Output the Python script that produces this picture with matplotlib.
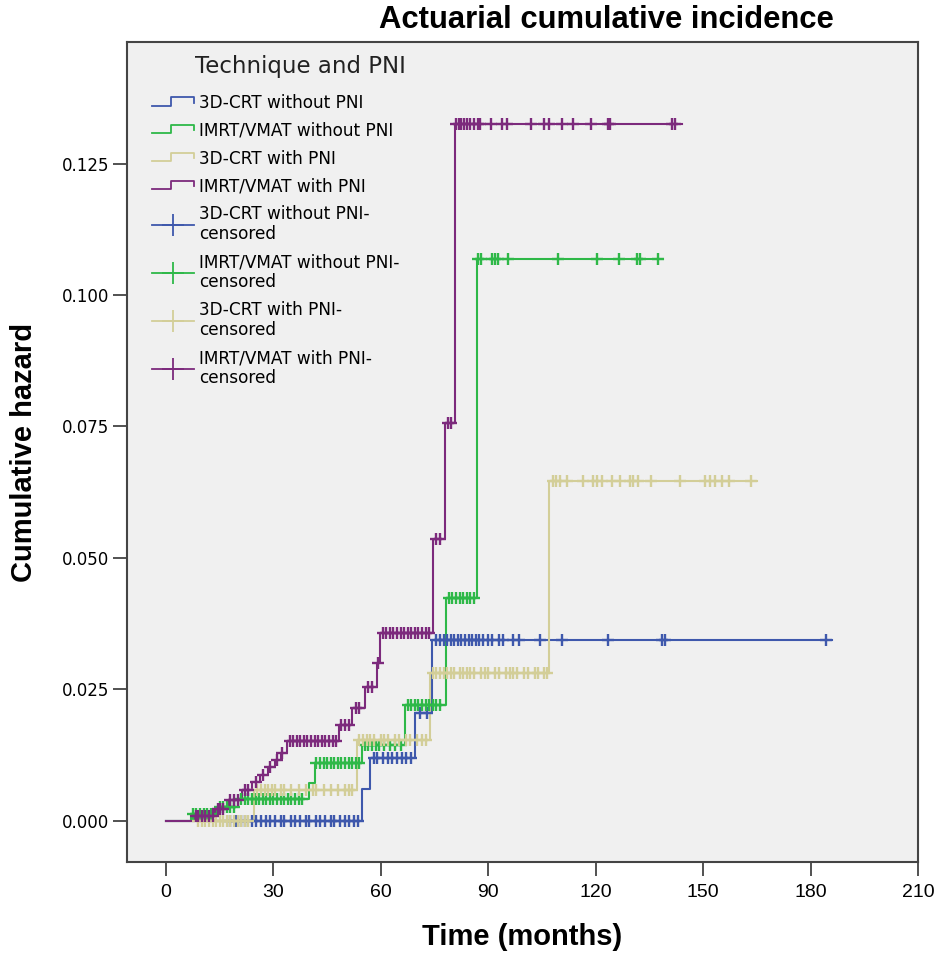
import numpy as np
import matplotlib
matplotlib.use('Agg')
import matplotlib.pyplot as plt
from matplotlib.lines import Line2D
from matplotlib.legend_handler import HandlerBase

plt.rcParams['font.family'] = ['Liberation Sans', 'DejaVu Sans']
narrow = ['Liberation Sans Narrow', 'Liberation Sans', 'DejaVu Sans']

# step data: event times (months) and cumulative hazard after each event
blue_times = [0, 54.7, 57.0, 69.5, 74.3]
blue_haz = [0, 0.0060, 0.0120, 0.0205, 0.0345]
blue_end = 186
blue_cens = [18, 19.5, 21, 22, 24, 25, 26.5, 28, 29, 30.5, 32, 33, 35, 36, 37.5, 39, 40,
             42, 43, 44.5, 46, 47, 48.5, 50, 51, 52.5, 53.5, 58, 59, 60.5, 62, 63, 64.5,
             66, 67, 68.5, 71, 73, 75.5, 76.5, 77.5, 78.5, 79.5, 80.5, 81.5, 82.5, 83.5,
             84.5, 85.5, 86.5, 87.5, 88.5, 90, 91, 93, 94, 97, 98.5, 104.4, 110.5, 123.4,
             138.6, 139.3, 184.3]

green_times = [0, 7.0, 14.0, 20.0, 40.0, 41.5, 54.7, 66.7, 78.3, 86.8]
green_haz = [0, 0.0014, 0.0027, 0.0041, 0.0072, 0.0110, 0.0145, 0.0220, 0.0424, 0.1068]
green_end = 138.8
green_cens = [7.5, 8.5, 9.5, 10.5, 11.5, 12.5, 15, 16, 17, 18, 19, 21, 22, 23, 24, 25, 26,
              27, 28, 29, 30, 31, 32, 33, 34, 35, 36, 37, 38, 42, 43, 44, 45, 46, 47, 48,
              49, 50, 51, 52, 53, 54, 55.5, 56.5, 57.5, 58.5, 59.5, 61, 62.5, 64, 65.5,
              67.5, 68.5, 69.5, 70.5, 71.5, 72.5, 73.5, 74.5, 75.5, 76.5, 79, 80, 81, 82,
              83, 84, 85, 86, 87.2, 88, 91, 92, 92.7, 95.5, 109.5, 120.4, 126.5, 131.5,
              132.4, 137.4]

tan_times = [0, 24.5, 53.3, 73.7, 107.0]
tan_haz = [0, 0.0058, 0.0153, 0.0281, 0.0646]
tan_end = 165
tan_cens = [9, 10, 11, 12, 13, 14, 15, 16, 17, 18, 19, 20, 21, 22, 23,
            25.5, 26.5, 27.5, 28.5, 29.5, 30.5, 32, 33, 35, 37, 39, 41, 42, 44, 46, 48,
            50, 51, 52, 54, 55, 56, 57, 58, 60, 61, 62, 64, 65, 67, 68, 70, 71.5, 72.5,
            74.5, 75.5, 76.5, 77.5, 78.5, 79.5, 80.5, 82, 83, 84, 85, 86, 88, 89, 90, 92,
            93, 95, 96, 97, 98, 100, 101, 103, 104, 105.5, 106.4, 108, 109, 110, 112,
            116.4, 119.2, 120.3, 121.7, 124.5, 126.8, 129.6, 130.5, 131.8, 135.4, 143.5,
            150.5, 151.9, 153.3, 155.2, 157.2, 163.4]

purple_times = [0, 8.1, 13.7, 17.3, 21.2, 24.0, 26.2, 28.5, 30.5, 32.0, 33.8, 48.2, 52.0,
                55.6, 58.9, 59.8, 74.6, 78.0, 80.7]
purple_haz = [0, 0.0010, 0.0023, 0.0040, 0.0059, 0.0074, 0.0088, 0.0102, 0.0115, 0.0130,
              0.0152, 0.0182, 0.0214, 0.0254, 0.0300, 0.0358, 0.0537, 0.0756, 0.1325]
purple_end = 144
purple_cens = [8.5, 9, 10, 11, 12, 13, 14.5, 15, 16, 18, 19, 20, 22, 23, 25, 27, 29, 31,
               32.5, 34.5, 35.5, 36.5, 37.5, 38.5, 39.5, 40.5, 41.5, 42.5, 43.5, 44.5,
               45.5, 46.5, 47.5, 49, 50, 51, 53, 54, 56.5, 57.5, 59.2, 60.5, 61.5, 62.5,
               63.5, 64.5, 65.5, 66.5, 67.5, 68.5, 69.5, 70.5, 71.5, 72.5, 73.5, 75.5,
               76.5, 78.8, 79.5, 81, 81.8, 82.5, 83.3, 84, 85, 86, 87, 87.8, 90.8, 93.8,
               95.2, 102, 105.5, 107, 110.5, 113.6, 118.7, 123.4, 124, 141.3, 142.2]

groups = ['3D-CRT without PNI', 'IMRT/VMAT without PNI', '3D-CRT with PNI', 'IMRT/VMAT with PNI']
colors = ['#3E58AC', '#2EB848', '#D3CE98', '#7C2A7C']

series = [(blue_times, blue_haz, blue_end, blue_cens),
          (green_times, green_haz, green_end, green_cens),
          (tan_times, tan_haz, tan_end, tan_cens),
          (purple_times, purple_haz, purple_end, purple_cens)]

fig = plt.figure(figsize=(9.34, 9.58), dpi=100)
ax = fig.add_axes([127 / 934, 96 / 958, 791 / 934, 820 / 958])
ax.set_facecolor('#F0F0F0')

for (times, haz, end, cens), col in zip(series, colors):
    ax.step(times + [end], haz + [haz[-1]], where='post', color=col, lw=1.5, zorder=3)
    times_arr = np.array(times)
    idx = np.searchsorted(times_arr, np.array(cens), side='right') - 1
    cens_y = np.array(haz)[idx]
    ax.plot(cens, cens_y, linestyle='none', marker='+', color=col, markersize=9,
            markeredgewidth=1.7, zorder=4)

ax.set_xlim(-10.9, 210)
ax.set_ylim(-0.0078, 0.1481)
ax.set_xticks([0, 30, 60, 90, 120, 150, 180, 210])
ax.set_yticks([0, 0.025, 0.05, 0.075, 0.1, 0.125])
ax.set_yticklabels(['0.000', '0.025', '0.050', '0.075', '0.100', '0.125'],
                   fontsize=12, family='DejaVu Sans')
ax.set_xticklabels(['0', '30', '60', '90', '120', '150', '180', '210'],
                   fontsize=14, family=narrow)
ax.tick_params(axis='both', direction='out', length=10, width=1.2, color='#333333')
ax.tick_params(axis='x', pad=6)
ax.tick_params(axis='y', pad=3)
for sp in ax.spines.values():
    sp.set_color('#444444')
    sp.set_linewidth(1.5)

ax.set_xlabel('Time (months)', fontsize=21, fontweight='bold', family=narrow, labelpad=16)
ax.set_ylabel('Cumulative hazard', fontsize=21, fontweight='bold', family=narrow)
ax.yaxis.set_label_coords((38 - 127) / 791, 0.5)
fig.text(606 / 934, 1 - 20 / 958, 'Actuarial cumulative incidence', ha='center', va='center',
         fontsize=22.3, fontweight='bold')


class StepHandler(HandlerBase):
    def create_artists(self, legend, orig_handle, xdescent, ydescent, width, height,
                       fontsize, trans):
        x0, y0 = -xdescent, -ydescent
        xs = [x0, x0 + 0.45 * width, x0 + 0.45 * width, x0 + width, x0 + width]
        ys = [y0 + 0.2 * height, y0 + 0.2 * height, y0 + 0.9 * height, y0 + 0.9 * height,
              y0 + 0.45 * height]
        line = Line2D(xs, ys, color=orig_handle.get_color(), lw=1.3, transform=trans)
        return [line]


step_handles = [Line2D([], [], color=c) for c in colors]
cens_handles = [Line2D([], [], color=c, marker='+', markersize=16, markeredgewidth=1.3, lw=1.3)
                for c in colors]
labels = groups + [g + '-\ncensored' for g in groups]

# legend title drawn as plain text, legend entries underneath
ax.text((300 - 127) / 791, (862 - 66) / 820, 'Technique and PNI', transform=ax.transAxes,
        ha='center', va='center', fontsize=16.5, family='DejaVu Sans', color='#222222')
leg = ax.legend(step_handles + cens_handles, labels, loc='upper left',
                bbox_to_anchor=((152 - 127) / 791, (862 - 94) / 820), frameon=False,
                prop={'family': 'DejaVu Sans', 'size': 12.2},
                handlelength=2.5, handletextpad=0.3, labelspacing=0.58, numpoints=1,
                borderpad=0, borderaxespad=0,
                handler_map={h: StepHandler() for h in step_handles})
for t in leg.get_texts():
    t.set_linespacing(1.15)

fig.savefig('out.png', dpi=100, facecolor='white')
